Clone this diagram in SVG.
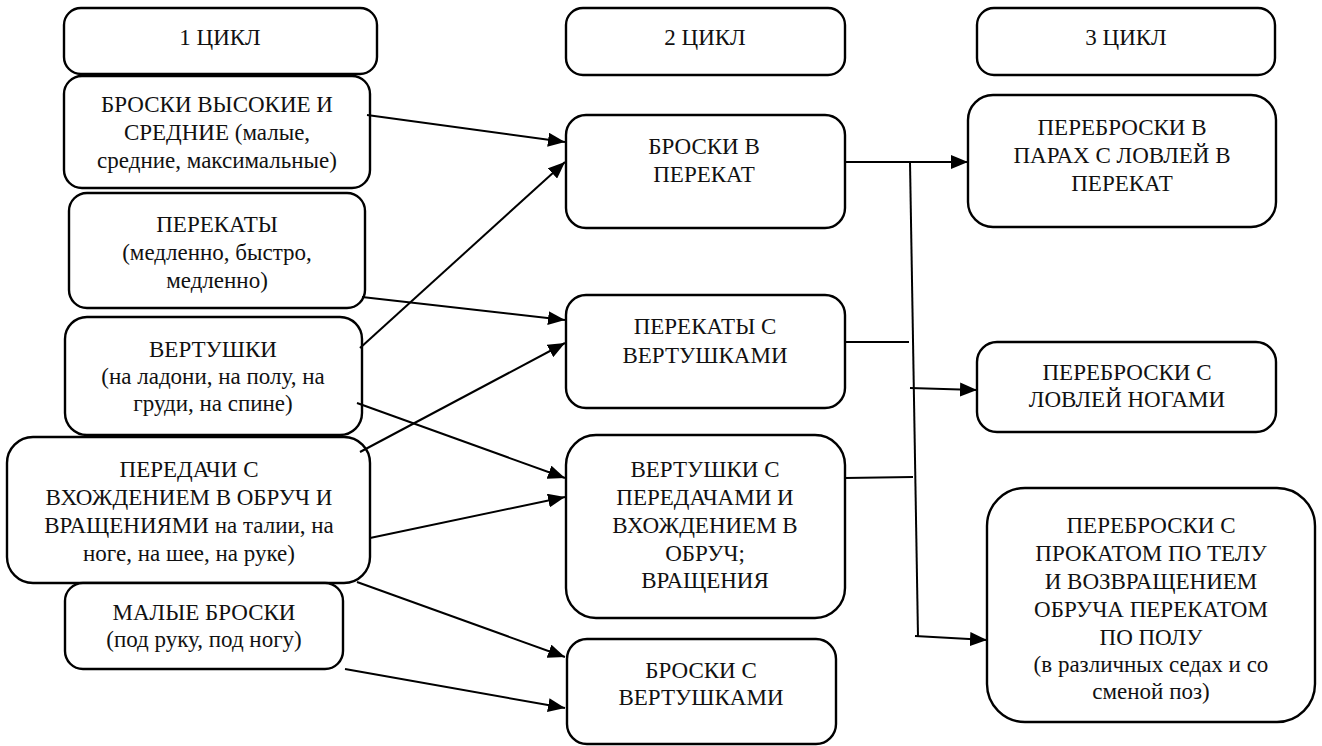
<svg xmlns="http://www.w3.org/2000/svg" width="1322" height="746" viewBox="0 0 1322 746">
  <style>
    .box { fill: #ffffff; stroke: #000000; stroke-width: 2.4; }
    .lbl { font-size: 23px; fill: #111111; text-anchor: middle; }
    .wire { fill: none; stroke: #000000; stroke-width: 2; }
    .arrow { fill: none; stroke: #000000; stroke-width: 2; marker-end: url(#head); }
  </style>
  <defs>
    <marker id="head" markerUnits="userSpaceOnUse" markerWidth="18" markerHeight="14" refX="17" refY="7" orient="auto">
      <path d="M0,0 L17,7 L0,14 z" fill="#000000"/>
    </marker>
  </defs>
  <rect width="1322" height="746" fill="#ffffff"/>

  <g font-family="Liberation Serif, DejaVu Serif, Noto Serif, serif">
  <!-- column headers -->
  <g id="cycle1">
    <rect class="box" x="64" y="8" width="313" height="66" rx="17"/>
    <text class="lbl" x="220" y="45">1 ЦИКЛ</text>
  </g>
  <g id="cycle2">
    <rect class="box" x="566" y="8" width="279" height="67" rx="17"/>
    <text class="lbl" x="705" y="45">2 ЦИКЛ</text>
  </g>
  <g id="cycle3">
    <rect class="box" x="977" y="8" width="298" height="67" rx="17"/>
    <text class="lbl" x="1126" y="45">3 ЦИКЛ</text>
  </g>

  <!-- cycle 1 -->
  <g id="throws-high">
    <rect class="box" x="64" y="76" width="306" height="112" rx="18"/>
    <text class="lbl" x="217" y="112">БРОСКИ ВЫСОКИЕ И</text>
    <text class="lbl" x="217" y="140">СРЕДНИЕ (малые,</text>
    <text class="lbl" x="217" y="168">средние, максимальные)</text>
  </g>
  <g id="rolls">
    <rect class="box" x="69" y="193" width="296" height="115" rx="18"/>
    <text class="lbl" x="217" y="232">ПЕРЕКАТЫ</text>
    <text class="lbl" x="217" y="260">(медленно, быстро,</text>
    <text class="lbl" x="217" y="288">медленно)</text>
  </g>
  <g id="spins">
    <rect class="box" x="65" y="317" width="297" height="118" rx="22"/>
    <text class="lbl" x="213" y="357">ВЕРТУШКИ</text>
    <text class="lbl" x="213" y="384">(на ладони, на полу, на</text>
    <text class="lbl" x="213" y="411">груди, на спине)</text>
  </g>
  <g id="passes">
    <rect class="box" x="7" y="437" width="363" height="146" rx="26"/>
    <text class="lbl" x="189" y="477">ПЕРЕДАЧИ С</text>
    <text class="lbl" x="189" y="505">ВХОЖДЕНИЕМ В ОБРУЧ И</text>
    <text class="lbl" x="189" y="533">ВРАЩЕНИЯМИ на талии, на</text>
    <text class="lbl" x="189" y="561">ноге, на шее, на руке)</text>
  </g>
  <g id="throws-small">
    <rect class="box" x="65" y="583" width="278" height="86" rx="18"/>
    <text class="lbl" x="204" y="620">МАЛЫЕ БРОСКИ</text>
    <text class="lbl" x="204" y="647">(под руку, под ногу)</text>
  </g>

  <!-- cycle 2 -->
  <g id="throws-roll">
    <rect class="box" x="566" y="115" width="279" height="113" rx="20"/>
    <text class="lbl" x="704" y="154">БРОСКИ В</text>
    <text class="lbl" x="704" y="182">ПЕРЕКАТ</text>
  </g>
  <g id="rolls-spins">
    <rect class="box" x="566" y="295" width="279" height="113" rx="20"/>
    <text class="lbl" x="705" y="334">ПЕРЕКАТЫ С</text>
    <text class="lbl" x="705" y="363">ВЕРТУШКАМИ</text>
  </g>
  <g id="spins-passes">
    <rect class="box" x="566" y="435" width="279" height="183" rx="30"/>
    <text class="lbl" x="705" y="477">ВЕРТУШКИ С</text>
    <text class="lbl" x="705" y="505">ПЕРЕДАЧАМИ И</text>
    <text class="lbl" x="705" y="533">ВХОЖДЕНИЕМ В</text>
    <text class="lbl" x="705" y="561">ОБРУЧ;</text>
    <text class="lbl" x="705" y="588">ВРАЩЕНИЯ</text>
  </g>
  <g id="throws-spins">
    <rect class="box" x="567" y="639" width="269" height="105" rx="20"/>
    <text class="lbl" x="701" y="678">БРОСКИ С</text>
    <text class="lbl" x="701" y="705">ВЕРТУШКАМИ</text>
  </g>

  <!-- cycle 3 -->
  <g id="pairs-catch">
    <rect class="box" x="968" y="95" width="308" height="132" rx="25"/>
    <text class="lbl" x="1122" y="135">ПЕРЕБРОСКИ В</text>
    <text class="lbl" x="1122" y="163">ПАРАХ С ЛОВЛЕЙ В</text>
    <text class="lbl" x="1122" y="191">ПЕРЕКАТ</text>
  </g>
  <g id="feet-catch">
    <rect class="box" x="977" y="342" width="299" height="90" rx="20"/>
    <text class="lbl" x="1127" y="380">ПЕРЕБРОСКИ С</text>
    <text class="lbl" x="1127" y="407">ЛОВЛЕЙ НОГАМИ</text>
  </g>
  <g id="body-roll">
    <rect class="box" x="987" y="488" width="328" height="234" rx="38"/>
    <text class="lbl" x="1151" y="533">ПЕРЕБРОСКИ С</text>
    <text class="lbl" x="1151" y="561">ПРОКАТОМ ПО ТЕЛУ</text>
    <text class="lbl" x="1151" y="589">И ВОЗВРАЩЕНИЕМ</text>
    <text class="lbl" x="1151" y="617">ОБРУЧА ПЕРЕКАТОМ</text>
    <text class="lbl" x="1151" y="645">ПО ПОЛУ</text>
    <text class="lbl" x="1151" y="672">(в различных седах и со</text>
    <text class="lbl" x="1151" y="699">сменой поз)</text>
  </g>
  </g>

  <!-- connectors -->
  <g id="connectors">
    <line class="arrow" x1="367" y1="115" x2="565" y2="142"/>
    <line class="arrow" x1="362" y1="297" x2="565" y2="320"/>
    <line class="arrow" x1="360" y1="348" x2="565" y2="162"/>
    <line class="arrow" x1="357" y1="403" x2="565" y2="478"/>
    <line class="arrow" x1="360" y1="452" x2="565" y2="343"/>
    <line class="arrow" x1="370" y1="538" x2="565" y2="497"/>
    <line class="arrow" x1="357" y1="582" x2="565" y2="657"/>
    <line class="arrow" x1="345" y1="669" x2="565" y2="708"/>

    <line class="arrow" x1="845" y1="162" x2="968" y2="162"/>
    <line class="wire" x1="910" y1="162" x2="918" y2="637"/>
    <line class="wire" x1="845" y1="342" x2="909" y2="342"/>
    <line class="wire" x1="845" y1="478" x2="913" y2="477"/>
    <line class="arrow" x1="910" y1="388" x2="977" y2="390"/>
    <line class="arrow" x1="915" y1="636" x2="987" y2="640"/>
  </g>
</svg>
